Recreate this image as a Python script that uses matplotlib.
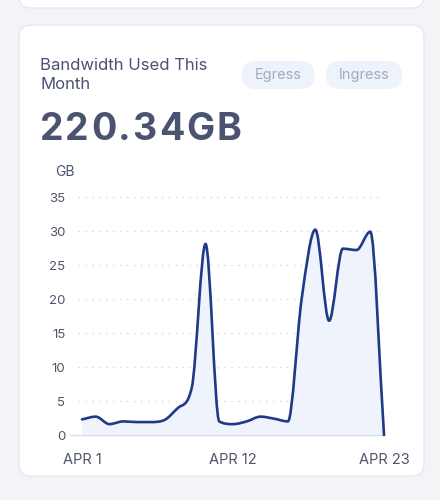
import numpy as np
import matplotlib.pyplot as plt
from matplotlib.path import Path
from matplotlib.patches import PathPatch, FancyBboxPatch

plt.rcParams['font.family'] = ['Inter', 'DejaVu Sans']

# daily bandwidth, Apr 1 .. Apr 23 (GB)
days = list(range(23))
usage = [2.3, 2.7, 1.6, 2.0, 1.9, 1.9, 2.2, 4.0, 7.0, 28.1, 2.0, 1.6,
         2.0, 2.7, 2.4, 2.0, 20.0, 30.2, 16.8, 27.4, 27.2, 29.9, 0.0]
yticks = [0, 5, 10, 15, 20, 25, 30, 35]
xtick_pos = [0, 11, 22]
xtick_labels = ['APR 1', 'APR 12', 'APR 23']
title = 'Bandwidth Used This\nMonth'
total = '220.34GB'
toggles = ['Egress', 'Ingress']

line_col = '#1f3a86'
fill_col = '#eff3fb'
text_col = '#4a5370'


def monotone_path(x, y):
    # monotone cubic (Fritsch-Carlson) as bezier segments, like chart.js
    x = np.asarray(x, float)
    y = np.asarray(y, float)
    dx = np.diff(x)
    d = np.diff(y) / dx
    n = len(x)
    m = np.zeros(n)
    m[0], m[-1] = d[0], d[-1]
    for i in range(1, n - 1):
        m[i] = 0 if d[i - 1] * d[i] <= 0 else (d[i - 1] + d[i]) / 2
    for i in range(n - 1):
        if d[i] == 0:
            m[i] = m[i + 1] = 0
            continue
        a, b = m[i] / d[i], m[i + 1] / d[i]
        s = a * a + b * b
        if s > 9:
            t = 3 / np.sqrt(s)
            m[i] = t * a * d[i]
            m[i + 1] = t * b * d[i]
    verts = [(x[0], y[0])]
    codes = [Path.MOVETO]
    for i in range(n - 1):
        h = dx[i] / 3
        verts += [(x[i] + h, y[i] + m[i] * h),
                  (x[i + 1] - h, y[i + 1] - m[i + 1] * h),
                  (x[i + 1], y[i + 1])]
        codes += [Path.CURVE4] * 3
    return verts, codes


fig = plt.figure(figsize=(4.4, 5.0), dpi=100)
fig.patch.set_facecolor('#f3f4f8')

# background layer in pixel coords
bg = fig.add_axes([0, 0, 1, 1])
bg.set_xlim(0, 440)
bg.set_ylim(500, 0)
bg.axis('off')
bg.add_patch(FancyBboxPatch((19, -40), 405, 48, boxstyle='round,pad=0,rounding_size=12',
                            fc='white', ec='#e6e8ee', lw=1))
bg.add_patch(FancyBboxPatch((19, 25), 405, 451, boxstyle='round,pad=0,rounding_size=12',
                            fc='white', ec='#e6e8ee', lw=1))
bg.text(40, 75, title, fontsize=12, color=text_col, va='center', ha='left', linespacing=1.35)

# big total, drawn char by char with a bit of tracking
renderer = fig.canvas.get_renderer()
xpos = 40
for ch in total:
    t = bg.text(xpos, 130, ch, fontsize=27, fontweight='bold', color=text_col,
                va='center', ha='left')
    w = t.get_window_extent(renderer).width
    xpos += w + 1.9

for cx, w, lab in [(278, 73, toggles[0]), (364, 76, toggles[1])]:
    bg.add_patch(FancyBboxPatch((cx - w / 2, 61), w, 28, boxstyle='round,pad=0,rounding_size=14',
                                fc='#eef2fb', ec='none'))
    bg.text(cx, 75.5, lab, fontsize=10.5, color='#a3abc0', ha='center', va='center')
bg.text(55, 172, 'GB', fontsize=10, color=text_col, ha='left', va='center')

ax = fig.add_axes([82 / 440, 65 / 500, 302 / 440, 238 / 500])
ax.set_xlim(0, 22)
ax.set_ylim(0, 35)
ax.patch.set_alpha(0)
for s in ax.spines.values():
    s.set_visible(False)

for v in yticks[1:]:
    ax.plot([-0.3, 21.8], [v, v], color='#d3d6de', lw=1, ls=(0, (1, 4)), clip_on=False, zorder=1)
ax.plot([-0.85, 22], [0, 0], color='#d9dce3', lw=1, clip_on=False, zorder=1)

verts, codes = monotone_path(days, usage)
fill_verts = verts + [(days[-1], 0), (days[0], 0), (days[0], usage[0])]
fill_codes = codes + [Path.LINETO, Path.LINETO, Path.CLOSEPOLY]
ax.add_patch(PathPatch(Path(fill_verts, fill_codes), fc=fill_col, ec='none', zorder=2))
ax.add_patch(PathPatch(Path(verts, codes), fc='none', ec=line_col, lw=1.9,
                       capstyle='round', joinstyle='round', zorder=3, clip_on=False))

ax.set_yticks(yticks)
ax.set_yticklabels([str(v) for v in yticks])
ax.set_xticks(xtick_pos)
ax.set_xticklabels(xtick_labels)
ax.tick_params(axis='y', length=0, pad=12, labelsize=9.5, labelcolor='#50566a')
ax.tick_params(axis='x', length=0, pad=13, labelsize=10.5, labelcolor='#50566a')

fig.savefig('out.png', dpi=100, facecolor=fig.get_facecolor())
